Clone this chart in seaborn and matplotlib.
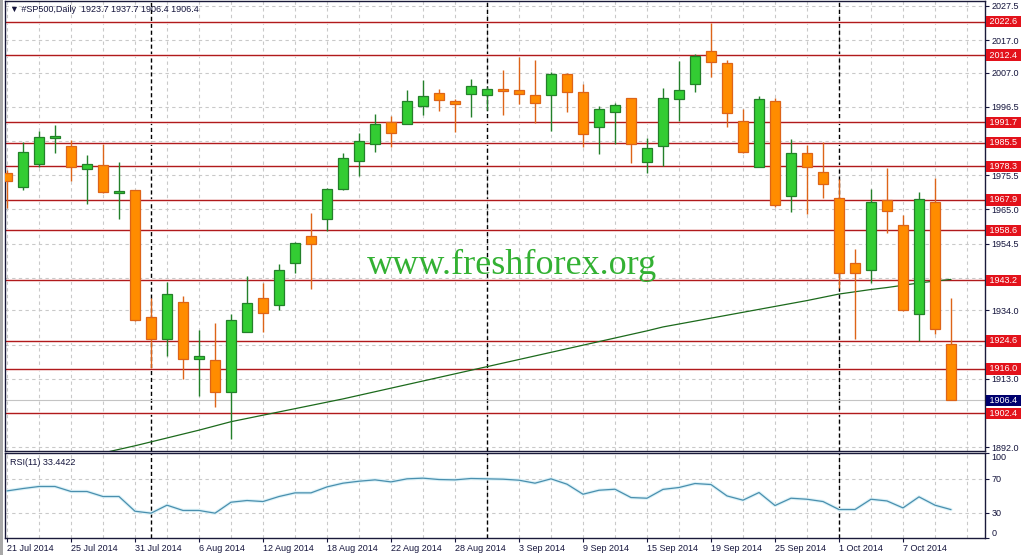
import numpy as np
import pandas as pd
import matplotlib
matplotlib.use("Agg")
import matplotlib.pyplot as plt
import matplotlib.transforms as mtransforms
from matplotlib.patches import Rectangle
import seaborn as sns

# ---------------- data ----------------
date_labels = ["21 Jul 2014", "25 Jul 2014", "31 Jul 2014", "6 Aug 2014", "12 Aug 2014",
               "18 Aug 2014", "22 Aug 2014", "28 Aug 2014", "3 Sep 2014", "9 Sep 2014",
               "15 Sep 2014", "19 Sep 2014", "25 Sep 2014", "1 Oct 2014", "7 Oct 2014"]
label_every = 4  # one date label every 4 bars

opens = [1976.1, 1971.8, 1978.9, 1986.9, 1984.5, 1977.3, 1978.6, 1970.0, 1970.9, 1931.9,
         1925.3, 1936.6, 1919.1, 1918.7, 1909.0, 1927.4, 1937.7, 1935.5, 1948.6, 1956.8,
         1962.0, 1971.2, 1980.0, 1985.2, 1991.8, 1991.2, 1996.6, 2000.7, 1998.2, 2000.4,
         2000.1, 2001.7, 2001.7, 2000.2, 2000.1, 2006.6, 2001.1, 1990.4, 1994.8, 1999.1,
         1979.7, 1984.6, 1999.0, 2003.4, 2013.6, 2009.9, 1992.1, 1978.0, 1998.2, 1969.0,
         1982.2, 1976.4, 1968.4, 1948.5, 1946.4, 1967.8, 1960.1, 1932.9, 1967.4, 1923.7]
highs = [1977.1, 1985.8, 1989.1, 1991.0, 1986.3, 1981.7, 1985.0, 1979.5, 1971.0, 1937.7,
         1942.8, 1938.4, 1928.0, 1930.2, 1932.8, 1944.6, 1942.5, 1948.2, 1955.1, 1963.8,
         1971.6, 1982.2, 1988.6, 1994.3, 1993.7, 2001.7, 2004.8, 2002.0, 1998.9, 2005.1,
         2002.7, 2007.8, 2011.8, 2010.9, 2007.3, 2007.0, 2003.5, 1996.8, 1997.8, 1999.2,
         1986.9, 2002.2, 2010.6, 2012.8, 2022.2, 2010.9, 1995.9, 1999.9, 1999.2, 1986.6,
         1984.9, 1985.6, 1974.3, 1952.8, 1971.2, 1977.8, 1963.3, 1970.3, 1974.7, 1937.7]
lows = [1965.4, 1971.0, 1978.1, 1982.4, 1973.7, 1966.6, 1970.0, 1962.0, 1930.8, 1916.2,
        1920.0, 1912.8, 1907.7, 1904.2, 1894.5, 1927.2, 1927.3, 1934.1, 1945.4, 1940.5,
        1958.5, 1971.1, 1975.3, 1982.7, 1984.1, 1991.1, 1994.0, 1995.3, 1988.9, 1993.5,
        1995.5, 1994.0, 1997.4, 1991.6, 1989.2, 1994.8, 1984.1, 1982.0, 1985.1, 1979.4,
        1976.1, 1978.3, 1992.3, 2001.2, 2005.8, 1990.4, 1982.2, 1977.9, 1965.8, 1964.3,
        1963.5, 1968.6, 1941.0, 1925.3, 1942.5, 1957.7, 1933.9, 1924.6, 1926.6, 1906.4]
closes = [1973.8, 1982.6, 1987.2, 1987.6, 1977.9, 1978.9, 1970.3, 1970.7, 1930.9, 1925.3,
          1939.0, 1919.1, 1920.0, 1909.0, 1931.0, 1936.3, 1933.3, 1946.3, 1954.6, 1954.5,
          1971.3, 1980.7, 1986.0, 1991.2, 1988.4, 1998.2, 1999.9, 1998.7, 1997.3, 2002.9,
          2001.9, 2001.5, 2000.3, 1997.6, 2006.6, 2000.9, 1988.1, 1995.8, 1997.0, 1985.1,
          1983.8, 1999.1, 2001.7, 2012.1, 2010.4, 1994.5, 1982.7, 1998.8, 1966.3, 1982.2,
          1978.0, 1972.7, 1945.6, 1945.4, 1967.4, 1964.4, 1934.0, 1968.1, 1928.2, 1906.4]

ma_values = [1883.0, 1884.2, 1885.4, 1886.6, 1887.8, 1889.0, 1890.2, 1891.3, 1892.4, 1893.6,
             1894.8, 1896.0, 1897.2, 1898.5, 1899.8, 1900.8, 1901.8, 1902.8, 1903.8, 1904.8,
             1905.8, 1906.8, 1907.9, 1909.0, 1910.1, 1911.2, 1912.3, 1913.4, 1914.5, 1915.6,
             1916.7, 1917.8, 1918.9, 1920.0, 1921.1, 1922.2, 1923.3, 1924.4, 1925.5, 1926.6,
             1927.7, 1928.9, 1929.8, 1930.7, 1931.6, 1932.5, 1933.4, 1934.3, 1935.2, 1936.1,
             1937.0, 1938.0, 1939.0, 1939.7, 1940.4, 1941.0, 1941.7, 1942.4, 1943.0, 1943.5]

rsi_values = [55.4, 58.2, 60.6, 60.6, 54.7, 54.7, 48.8, 48.8, 31.5, 29.2,
              38.6, 32.4, 32.4, 29.2, 42.1, 44.1, 42.9, 48.8, 53.1, 53.1,
              60.1, 64.5, 66.8, 68.4, 66.0, 69.6, 70.4, 68.8, 68.4, 70.0,
              69.6, 69.2, 68.0, 64.5, 69.6, 63.3, 51.5, 56.2, 57.4, 47.6,
              46.8, 57.2, 59.4, 64.1, 62.9, 49.5, 44.5, 53.5, 38.2, 46.8,
              45.6, 42.9, 33.5, 33.5, 45.6, 43.6, 35.4, 48.4, 38.6, 33.4]

levels = [2022.6, 2012.4, 1991.7, 1985.5, 1978.3, 1967.9, 1958.6, 1943.2, 1924.6, 1916.0, 1902.4]
level_labels = ["2022.6", "2012.4", "1991.7", "1985.5", "1978.3", "1967.9", "1958.6",
                "1943.2", "1924.6", "1916.0", "1902.4"]
last_price = 1906.4
last_price_label = "1906.4"

# price scale ticks (labels hidden behind the level boxes are left blank)
price_ticks = [2027.5, 2017.0, 2007.0, 1996.5, 1986.0, 1975.5, 1965.0, 1954.5,
               1944.0, 1934.0, 1923.5, 1913.0, 1902.5, 1892.0]
price_tick_labels = ["2027.5", "2017.0", "2007.0", "1996.5", "", "1975.5", "1965.0",
                     "1954.5", "", "1934.0", "", "1913.0", "", "1892.0"]
rsi_ticks = [0, 30, 70, 100]
rsi_tick_labels = ["0", "30", "70", "100"]
rsi_levels = [30, 70]
month_starts = [9, 30, 52]  # first bar of Aug, Sep, Oct

title_text = "\u25bc #SP500,Daily  1923.7 1937.7 1906.4 1906.4"
rsi_title = "RSI(11) 33.4422"
watermark = "www.freshforex.org"

# ---------------- style ----------------
sns.set_theme(style="white")
plt.rcParams['font.family'] = ['Liberation Sans', 'DejaVu Sans']

TXT = "#14143c"
GRID = "#c9c9c9"
UP_FILL, UP_EDGE = "#33cc33", "#23802a"
DN_FILL, DN_EDGE = "#ff8c00", "#dd6418"
LEVEL = "#b01a1c"
LEVEL_HALO = "#f8dede"
BOX_RED = "#e3121b"
BOX_BLUE = "#00006e"
FS = 6.5

W, H = 1027, 555
fig = plt.figure(figsize=(W / 100, H / 100), dpi=100)
fig.patch.set_facecolor("white")
L, R = 5 / W, 985 / W
ax = fig.add_axes([L, 1 - 451 / H, R - L, 450 / H])
ax2 = fig.add_axes([L, 1 - 538 / H, R - L, 85 / H], sharex=ax)

n = len(opens)
df = pd.DataFrame({"i": np.arange(n), "o": opens, "h": highs, "l": lows, "c": closes,
                   "ma": ma_values, "rsi": rsi_values})
up = (df["c"] >= df["o"]).to_numpy()

ax.set_xlim(-0.125, 61.125)
ax.set_ylim(1890.8, 2029.0)
ax2.set_ylim(0, 100)

# grid
even_pos = np.arange(0, 61, 2)
for a in (ax, ax2):
    for p in even_pos:
        a.axvline(p, color=GRID, lw=0.8, ls=(0, (3, 3)), zorder=0.6)
for t in price_ticks:
    ax.axhline(t, color=GRID, lw=0.8, ls=(0, (3, 3)), zorder=0.6)
for t in rsi_levels:
    ax2.axhline(t, color=GRID, lw=0.8, ls=(0, (3, 3)), zorder=0.6)

# month separators
for a in (ax, ax2):
    for m in month_starts:
        a.axvline(m, color="black", lw=1.0, ls=(0, (3, 2)), zorder=1.0)

# level lines and last price line
for lv in levels:
    ax.axhline(lv, color=LEVEL_HALO, lw=2.0, zorder=1.5)
    ax.axhline(lv, color=LEVEL, lw=0.85, zorder=1.6)
ax.axhline(last_price, color="#c4c4c4", lw=0.8, zorder=1.4)

# moving average
sns.lineplot(data=df, x="i", y="ma", ax=ax, color="#1c6a1c", lw=0.9, legend=False, zorder=2.5)

# candles
edge_cols = np.where(up, UP_EDGE, DN_EDGE)
fill_cols = np.where(up, UP_FILL, DN_FILL)
ax.vlines(df["i"], df["l"], df["h"], colors=edge_cols, lw=1.0, zorder=3)
body = (df["c"] - df["o"]).abs().clip(lower=0.35)
ax.bar(df["i"], body, bottom=np.minimum(df["o"], df["c"]), width=0.6,
       color=fill_cols, edgecolor=edge_cols, linewidth=0.9, zorder=4)

# watermark
ax.text(0.517, 0.412, watermark, transform=ax.transAxes, ha="center", va="center",
        fontsize=26, family=["Liberation Serif", "DejaVu Serif"], color="#33b133", zorder=6)

# right axis
ax.set_ylabel("")
ax.set_xlabel("")
ax.yaxis.tick_right()
ax.set_yticks(price_ticks)
ax.set_yticklabels(price_tick_labels)
ax.tick_params(axis="y", right=True, left=False, length=3, width=0.8, pad=1.5,
               labelsize=FS, colors=TXT, direction="out")
ax.tick_params(axis="x", bottom=False, labelbottom=False)

trans = mtransforms.blended_transform_factory(ax.transAxes, ax.transData)
for lv, lab in zip(levels, level_labels):
    ax.text(1.002, lv, f" {lab} ", transform=trans, ha="left", va="center", color="white",
            fontsize=FS, bbox=dict(boxstyle="square,pad=0.12", fc=BOX_RED, ec="none"),
            clip_on=False, zorder=7)
ax.text(1.002, last_price, f" {last_price_label} ", transform=trans, ha="left", va="center",
        color="white", fontsize=FS,
        bbox=dict(boxstyle="square,pad=0.12", fc=BOX_BLUE, ec="none"),
        clip_on=False, zorder=7)

# RSI panel
ax2.plot(df["i"], df["rsi"], color="#dcf2f8", lw=2.4, zorder=2)
sns.lineplot(data=df, x="i", y="rsi", ax=ax2, color="#4a8fae", lw=0.9, legend=False, zorder=3)
ax2.set_ylabel("")
ax2.set_xlabel("")
ax2.yaxis.tick_right()
ax2.set_yticks(rsi_ticks)
ax2.set_yticklabels(rsi_tick_labels)
ax2.tick_params(axis="y", right=True, left=False, length=3, width=0.8, pad=1.5,
                labelsize=FS, colors=TXT, direction="out")
for tk in ax2.yaxis.get_major_ticks():
    if tk.label2.get_text() == "100":
        tk.label2.set_va("top")
    elif tk.label2.get_text() == "0":
        tk.label2.set_va("bottom")

ax2.set_xticks(np.arange(len(date_labels)) * label_every)
ax2.set_xticklabels(date_labels, ha="left")
ax2.tick_params(axis="x", bottom=True, length=3, width=0.8, pad=1.5, labelsize=FS,
                colors=TXT, direction="out")
for lbl in ax2.get_xticklabels():
    lbl.set_ha("left")

ax2.text(5 / 980, 0.89, rsi_title, transform=ax2.transAxes, ha="left", va="center",
         fontsize=FS, color=TXT, zorder=6)

for a in (ax, ax2):
    for s in a.spines.values():
        s.set_visible(True)
        s.set_color("#1a1a3a")
        s.set_linewidth(1.0)

fig.text(10 / W, 1 - 10 / H, title_text, ha="left", va="center", fontsize=FS, color=TXT)
fig.patches.append(Rectangle((0, 0), 3 / W, 1, transform=fig.transFigure,
                             facecolor="#a8a8a8", edgecolor="none", zorder=0))

fig.savefig("out.png", dpi=100, facecolor="white")
